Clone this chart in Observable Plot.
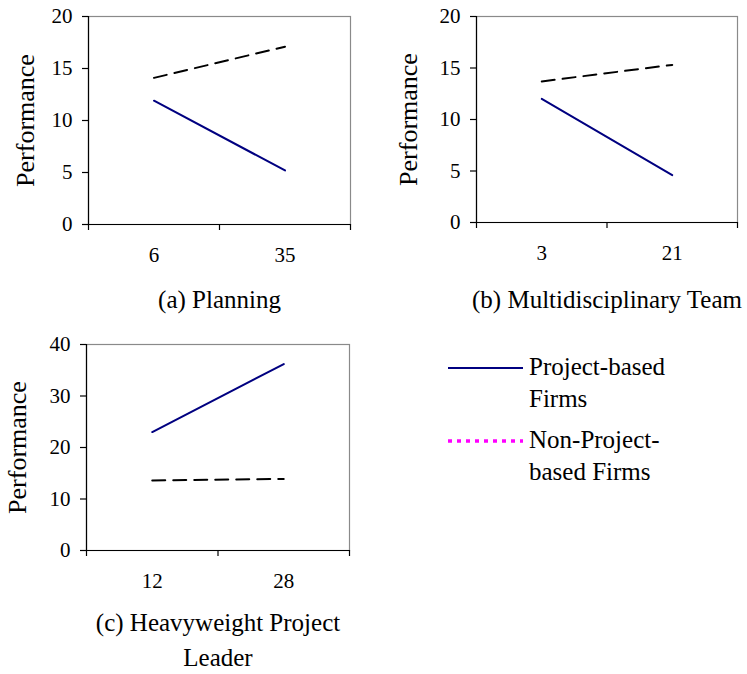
<!DOCTYPE html>
<html>
<head>
<meta charset="utf-8">
<script src="https://cdn.jsdelivr.net/npm/d3@7"></script>
<script src="https://cdn.jsdelivr.net/npm/@observablehq/plot@0.6"></script>
<style>
  html, body { margin: 0; padding: 0; background: #fff; }
  #root { position: relative; width: 747px; height: 674px; background: #fff; font-family: "Liberation Serif"; color: #000; }
  .panel { position: absolute; }
  .panel svg { overflow: visible; }
  .legend { position: absolute; font-family: "Liberation Serif"; font-size: 25px; line-height: 32px; color: #000; }
</style>
</head>
<body>
<div id="root"></div>
<script>
// ---- Data ----
const seriesNames = ["Project-based Firms", "Non-Project-based Firms"];

const planningLevels = ["6", "35"];
const planningProject = [11.9, 5.2];
const planningNonProject = [14.1, 17.1];

const teamLevels = ["3", "21"];
const teamProject = [12.0, 4.6];
const teamNonProject = [13.7, 15.3];

const leaderLevels = ["12", "28"];
const leaderProject = [23.0, 36.2];
const leaderNonProject = [13.6, 13.9];

const panelTitles = ["(a) Planning", "(b) Multidisciplinary Team", "(c) Heavyweight Project\nLeader"];
const yTicksSmall = [0, 5, 10, 15, 20];
const yTicksLarge = [0, 10, 20, 30, 40];
const yLabel = "Performance";
const legendLabels = [["Project-based", "Firms"], ["Non-Project-", "based Firms"]];

const colors = {project: "#000080", nonProject: "#000000", legendNonProject: "#ff00ff"};
const FONT = "Liberation Serif";

function rows(levels, values, series) {
  return levels.map((lv, i) => ({pos: i + 0.5, level: lv, value: values[i], series}));
}

function panel({levels, project, nonProject, yMax, yTicks, title, width, height, mL, mR, mT, mB, labelDx, titleDy, left, top}) {
  const projRows = rows(levels, project, seriesNames[0]);
  const nonRows = rows(levels, nonProject, seriesNames[1]);
  const chart = Plot.plot({
    width, height,
    marginLeft: mL, marginRight: mR, marginTop: mT, marginBottom: mB,
    style: {fontFamily: FONT, color: "#000", background: "transparent", overflow: "visible"},
    x: {type: "linear", domain: [0, levels.length]},
    y: {domain: [0, yMax]},
    marks: [
      Plot.frame({stroke: "#8a8a8a", strokeWidth: 1.2}),
      Plot.ruleX([0], {stroke: "#000", strokeWidth: 1.2}),
      Plot.ruleY([0], {stroke: "#000", strokeWidth: 1.2}),
      Plot.axisY({ticks: yTicks, tickSize: 6, tickPadding: 10, label: null, fontSize: 21, fontFamily: FONT, stroke: "#000", strokeWidth: 1.2}),
      Plot.axisX({ticks: d3.range(levels.length + 1), tickSize: 6, tickFormat: () => "", label: null, stroke: "#000", strokeWidth: 1.2}),
      Plot.axisX({ticks: levels.map((_, i) => i + 0.5), tickSize: 0, tickPadding: 23, tickFormat: d => levels[Math.floor(d)], label: null, fontSize: 21, fontFamily: FONT}),
      Plot.line(nonRows, {x: "pos", y: "value", stroke: colors.nonProject, strokeWidth: 2, strokeDasharray: "13,8"}),
      Plot.line(projRows, {x: "pos", y: "value", stroke: colors.project, strokeWidth: 2}),
      Plot.text([yLabel], {frameAnchor: "left", rotate: -90, dx: labelDx, fontSize: 26, fontFamily: FONT, lineAnchor: "middle", textAnchor: "middle", fill: "#000"}),
      Plot.text([title], {frameAnchor: "bottom", dy: titleDy, fontSize: 25, fontFamily: FONT, lineAnchor: "middle", textAnchor: "middle", lineHeight: 1.4, fill: "#000"})
    ]
  });
  const div = document.createElement("div");
  div.className = "panel";
  div.style.left = left + "px";
  div.style.top = top + "px";
  div.style.width = width + "px";
  div.style.height = height + "px";
  div.appendChild(chart);
  document.getElementById("root").appendChild(div);
}

panel({levels: planningLevels, project: planningProject, nonProject: planningNonProject, yMax: 20, yTicks: yTicksSmall,
  title: panelTitles[0], width: 370, height: 320, mL: 88, mR: 20, mT: 16, mB: 96, labelDx: -63, titleDy: 72, left: 0, top: 0});

panel({levels: teamLevels, project: teamProject, nonProject: teamNonProject, yMax: 20, yTicks: yTicksSmall,
  title: panelTitles[1], width: 367, height: 320, mL: 96, mR: 10, mT: 16, mB: 98, labelDx: -68, titleDy: 74, left: 380, top: 0});

panel({levels: leaderLevels, project: leaderProject, nonProject: leaderNonProject, yMax: 40, yTicks: yTicksLarge,
  title: panelTitles[2], width: 370, height: 354, mL: 86, mR: 21, mT: 24, mB: 124, labelDx: -69, titleDy: 87, left: 0, top: 320});

d3.selectAll("#root svg").attr("font-family", FONT).style("font-family", FONT);
d3.selectAll("#root svg text, #root svg tspan, #root svg g").attr("font-family", FONT);

// ---- Legend (swatches as svg, labels as HTML text) ----
const legendSvg = d3.select("#root").append("svg")
  .attr("width", 747).attr("height", 674)
  .style("position", "absolute").style("left", "0px").style("top", "0px");
const legendItems = [
  {color: colors.project, dash: null, width: 2, y: 368, top: 351},
  {color: colors.legendNonProject, dash: "4,5", width: 3.5, y: 441, top: 424}
];
legendItems.forEach((it, k) => {
  legendSvg.append("line").attr("x1", 448).attr("x2", 523).attr("y1", it.y).attr("y2", it.y)
    .attr("stroke", it.color).attr("stroke-width", it.width).attr("stroke-dasharray", it.dash);
  const d = document.createElement("div");
  d.className = "legend";
  d.style.left = "529px";
  d.style.top = it.top + "px";
  d.innerHTML = legendLabels[k].join("<br>");
  document.getElementById("root").appendChild(d);
});
</script>
</body>
</html>
